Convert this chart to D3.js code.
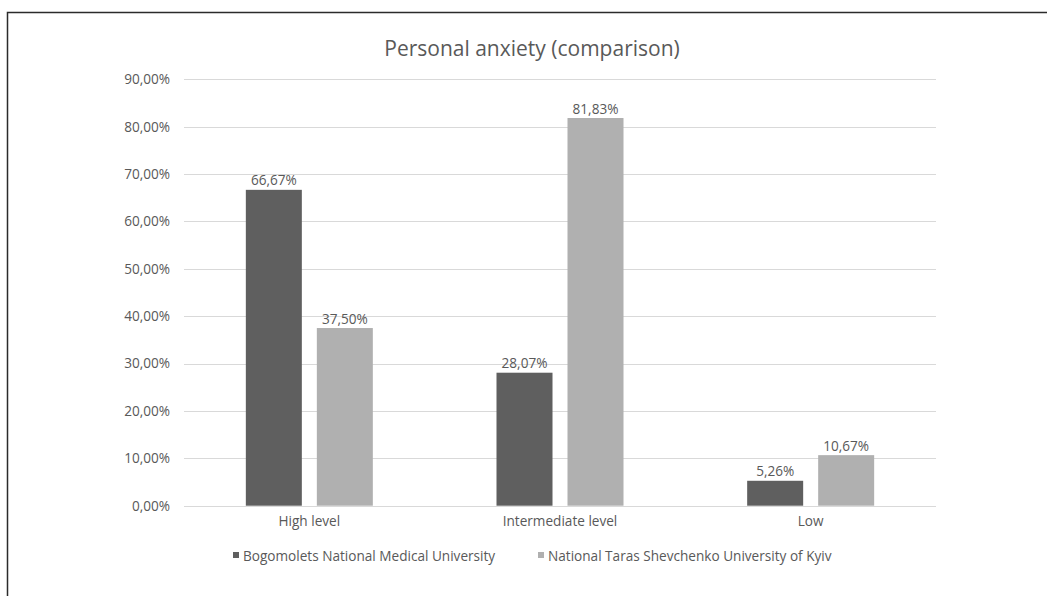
<!DOCTYPE html>
<html>
<head>
<meta charset="utf-8">
<script src="https://cdn.jsdelivr.net/npm/d3@7"></script>
<style>
  html, body { margin: 0; padding: 0; background: #fff; }
  svg { display: block; }
  text { font-family: "Open Sans", "Noto Sans", sans-serif; fill: #595959; }
</style>
</head>
<body>
<svg id="chart" width="1047" height="596"></svg>
<script>
// Chart data
const title = "Personal anxiety (comparison)";
const categories = ["High level", "Intermediate level", "Low"];
const seriesNames = ["Bogomolets National Medical University", "National Taras Shevchenko University of Kyiv"];
const bogomoletsValues = [66.67, 28.07, 5.26];
const shevchenkoValues = [37.50, 81.83, 10.67];
const yTicks = [0, 10, 20, 30, 40, 50, 60, 70, 80, 90];
const seriesColors = ["#5f5f5f", "#b0b0b0"];

const svg = d3.select("#chart");
const W = 1047, H = 596;
const smallFont = 13.6;

// Outer chart frame (runs past the right and bottom edges)
svg.append("rect")
  .attr("x", 7.5).attr("y", 12.5)
  .attr("width", W + 20).attr("height", H + 20)
  .attr("fill", "none").attr("stroke", "#2b2b2b").attr("stroke-width", 1.5);

const plot = { left: 184, right: 936, top: 79.3, bottom: 505.7 };

const x = d3.scaleBand().domain(categories).range([plot.left, plot.right]);
const y = d3.scaleLinear().domain([0, 90]).range([plot.bottom, plot.top]);

const fmt = v => d3.format(".2f")(v).replace(".", ",") + "%";

// Gridlines
svg.append("g").selectAll("line").data(yTicks).join("line")
  .attr("x1", plot.left).attr("x2", plot.right)
  .attr("y1", d => Math.round(y(d)) + 0.5).attr("y2", d => Math.round(y(d)) + 0.5)
  .attr("stroke", "#d9d9d9").attr("stroke-width", 1);

// Y axis labels
const yAxis = d3.axisLeft(y).tickValues(yTicks).tickFormat(fmt).tickSize(0).tickPadding(14);
const yg = svg.append("g").attr("transform", `translate(${plot.left},0)`).call(yAxis);
yg.select(".domain").remove();
yg.selectAll("text").attr("font-size", smallFont).attr("font-family", "Open Sans, sans-serif").attr("fill", "#595959");

// Bars
const barW = 56, barGap = 15;
const series = [bogomoletsValues, shevchenkoValues];
series.forEach((vals, si) => {
  const offset = si === 0 ? -(barGap / 2 + barW) : barGap / 2;
  const g = svg.append("g");
  g.selectAll("rect").data(vals).join("rect")
    .attr("x", (d, i) => x(categories[i]) + x.bandwidth() / 2 + offset)
    .attr("y", d => y(d))
    .attr("width", barW)
    .attr("height", d => y(0) - y(d))
    .attr("fill", seriesColors[si]);
  g.selectAll("text").data(vals).join("text")
    .attr("x", (d, i) => x(categories[i]) + x.bandwidth() / 2 + offset + barW / 2)
    .attr("y", d => y(d) - 4.5)
    .attr("text-anchor", "middle")
    .attr("font-size", smallFont)
    .text(fmt);
});

// Category axis labels
const xAxis = d3.axisBottom(x).tickSize(0).tickPadding(11);
const xg = svg.append("g").attr("transform", `translate(0,${plot.bottom})`).call(xAxis);
xg.select(".domain").remove();
xg.selectAll("text").attr("font-size", smallFont).attr("font-family", "Open Sans, sans-serif").attr("fill", "#595959");

// Title
svg.append("text")
  .attr("x", 532).attr("y", 56)
  .attr("text-anchor", "middle")
  .attr("font-size", 21)
  .text(title);

// Legend
const legendItems = [{ x: 233, name: seriesNames[0], color: seriesColors[0] },
                     { x: 538, name: seriesNames[1], color: seriesColors[1] }];
const lg = svg.append("g");
legendItems.forEach(it => {
  lg.append("rect").attr("x", it.x).attr("y", 552).attr("width", 6).attr("height", 6).attr("fill", it.color);
  lg.append("text").attr("x", it.x + 10).attr("y", 560.5).attr("font-size", smallFont).text(it.name);
});
</script>
</body>
</html>
